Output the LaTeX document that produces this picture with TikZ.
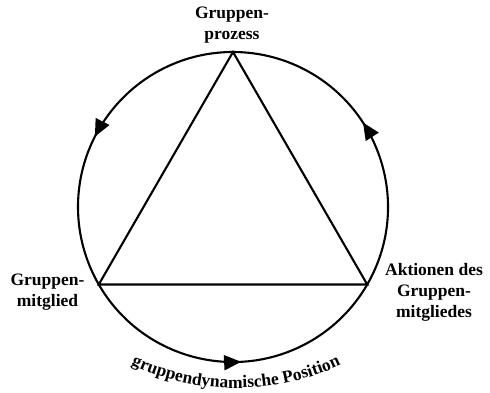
\documentclass[tikz,border=0pt]{standalone}
\usepackage{fontspec}
\setmainfont{Liberation Serif}
\usetikzlibrary{arrows.meta,decorations.markings,decorations.text}
\tikzset{
  ring/.style={line width=2.1pt},
  tri/.style={line width=2.1pt, line join=miter},
  lbl/.style={font=\bfseries\fontsize{17.5}{21}\selectfont, align=center, inner sep=0pt},
  flowarrow/.style={postaction={decorate}, decoration={markings,
      mark=at position 0.525 with {\arrow{Triangle[length=17pt,width=15pt]}}}}
}
\begin{document}
\begin{tikzpicture}[x=1pt,y=1pt]
\useasboundingbox (0,0) rectangle (490,393);
\coordinate (O) at (233,186);
\coordinate (A) at (233,341);
\coordinate (B) at (98.77,108.5);
\coordinate (C) at (367.23,108.5);
\coordinate (ts) at (93.2,50);
\draw[ring,flowarrow] (A) arc[start angle=90,end angle=210,radius=155pt];
\draw[ring,flowarrow] (B) arc[start angle=210,end angle=330,radius=155pt];
\draw[ring,flowarrow] (C) arc[start angle=330,end angle=450,radius=155pt];
\draw[tri] (A) -- (B) -- (C) -- cycle;
\node[lbl] (proc) at (232,367.6) {Gruppen-\\prozess};
\node[lbl] (mem) at (47.5,100.7) {Gruppen-\\mitglied};
\node[lbl] (act) at (434,100.5) {Aktionen des\\Gruppen-\\mitgliedes};
\path[decorate, decoration={text along path, text align=center,
   text={|\bfseries\fontsize{17.5}{21}\selectfont|gruppendynamische Position}}]
   (ts) arc[start angle=235,end angle=305,radius=249pt];
\end{tikzpicture}
\end{document}
